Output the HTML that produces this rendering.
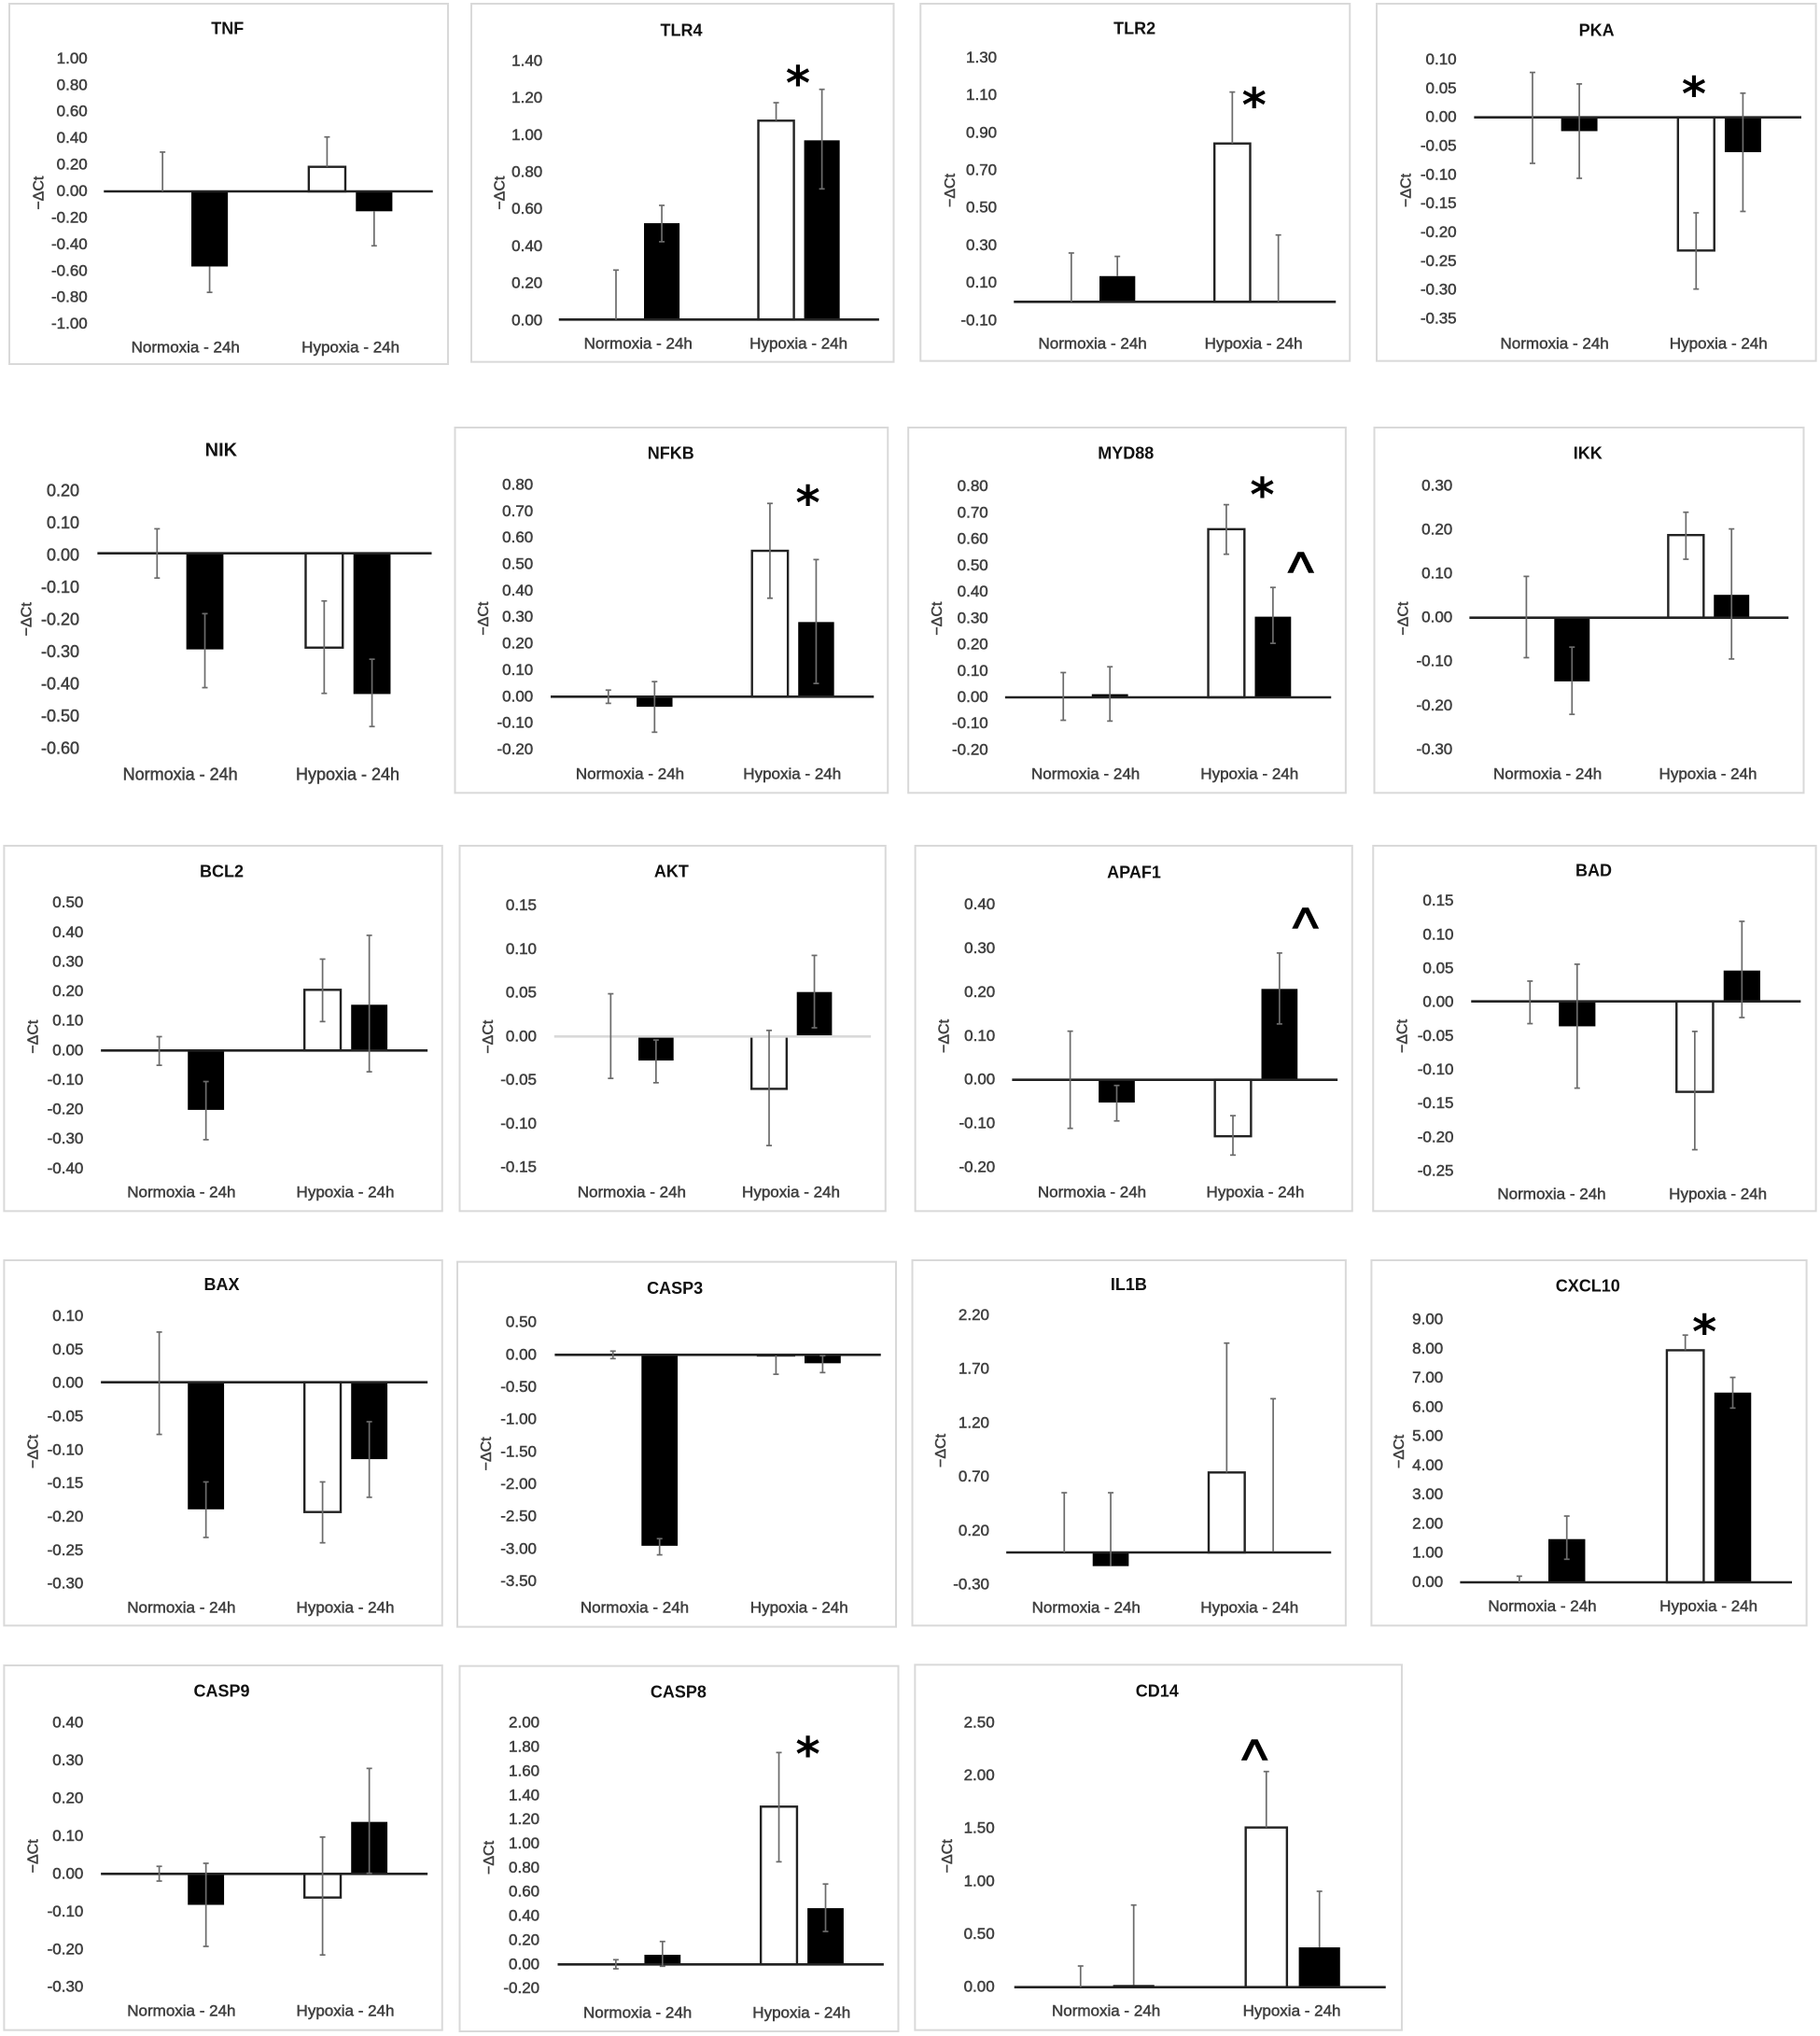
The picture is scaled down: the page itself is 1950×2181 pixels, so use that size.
<!DOCTYPE html>
<html lang="en">
<head>
<meta charset="utf-8">
<title>Gene expression panels: -ΔCt under normoxia and hypoxia</title>
<style>
  html, body { margin: 0; padding: 0; background: #fff; }
  #figure { display: block; font-family: "Liberation Sans", "DejaVu Sans", sans-serif; filter: blur(0.35px); }
</style>
</head>
<body>
<svg id="figure" xmlns="http://www.w3.org/2000/svg" width="1950" height="2181" viewBox="0 0 1950 2181"></svg>
<script>
/* ---------- chart data ---------- */
const genes = ['TNF','TLR4','TLR2','PKA','NIK','NFKB','MYD88','IKK','BCL2','AKT','APAF1','BAD','BAX','CASP3','IL1B','CXCL10','CASP9','CASP8','CD14'];
const categories = ['Normoxia - 24h','Hypoxia - 24h'];
const yAxisTitle = '\u2212\u0394Ct';

const tickLabels = [
  ['1.00','0.80','0.60','0.40','0.20','0.00','-0.20','-0.40','-0.60','-0.80','-1.00'],
  ['1.40','1.20','1.00','0.80','0.60','0.40','0.20','0.00'],
  ['1.30','1.10','0.90','0.70','0.50','0.30','0.10','-0.10'],
  ['0.10','0.05','0.00','-0.05','-0.10','-0.15','-0.20','-0.25','-0.30','-0.35'],
  ['0.20','0.10','0.00','-0.10','-0.20','-0.30','-0.40','-0.50','-0.60'],
  ['0.80','0.70','0.60','0.50','0.40','0.30','0.20','0.10','0.00','-0.10','-0.20'],
  ['0.80','0.70','0.60','0.50','0.40','0.30','0.20','0.10','0.00','-0.10','-0.20'],
  ['0.30','0.20','0.10','0.00','-0.10','-0.20','-0.30'],
  ['0.50','0.40','0.30','0.20','0.10','0.00','-0.10','-0.20','-0.30','-0.40'],
  ['0.15','0.10','0.05','0.00','-0.05','-0.10','-0.15'],
  ['0.40','0.30','0.20','0.10','0.00','-0.10','-0.20'],
  ['0.15','0.10','0.05','0.00','-0.05','-0.10','-0.15','-0.20','-0.25'],
  ['0.10','0.05','0.00','-0.05','-0.10','-0.15','-0.20','-0.25','-0.30'],
  ['0.50','0.00','-0.50','-1.00','-1.50','-2.00','-2.50','-3.00','-3.50'],
  ['2.20','1.70','1.20','0.70','0.20','-0.30'],
  ['9.00','8.00','7.00','6.00','5.00','4.00','3.00','2.00','1.00','0.00'],
  ['0.40','0.30','0.20','0.10','0.00','-0.10','-0.20','-0.30'],
  ['2.00','1.80','1.60','1.40','1.20','1.00','0.80','0.60','0.40','0.20','0.00','-0.20'],
  ['2.50','2.00','1.50','1.00','0.50','0.00']
];

/* bar order: normoxia control, normoxia treated, hypoxia control, hypoxia treated */
const meanValues = [
  [0, -0.566, 0.185, -0.15],
  [0, 0.52, 1.073, 0.967],
  [0, 0.137, 0.843, 0],
  [0, -0.024, -0.2315, -0.0606],
  [0, -0.2985, -0.293, -0.437],
  [0, -0.038, 0.551, 0.282],
  [0, 0.012, 0.638, 0.306],
  [0, -0.145, 0.188, 0.052],
  [0, -0.201, 0.2055, 0.155],
  [0, -0.0275, -0.06, 0.051],
  [0, -0.052, -0.129, 0.2075],
  [0, -0.037, -0.134, 0.0456],
  [0, -0.19, -0.194, -0.115],
  [0, -2.95, -0.01, -0.13],
  [0, -0.127, 0.742, 0.006],
  [0, 1.48, 7.95, 6.5],
  [0, -0.082, -0.0626, 0.1376],
  [0, 0.08, 1.307, 0.466],
  [0, 0.02, 1.509, 0.376]
];
const errorUp = [
  [0.296, 0, 0.225, 0],
  [0.267, 0.096, 0.097, 0.275],
  [0.26, 0.105, 0.274, 0.356],
  [0.078, 0.082, 0.0655, 0.1026],
  [0.076, 0.111, 0.145, 0.108],
  [0.025, 0.095, 0.179, 0.236],
  [0.094, 0.104, 0.093, 0.111],
  [0.094, 0.078, 0.052, 0.15],
  [0.047, 0.096, 0.104, 0.235],
  [0.049, 0.0235, 0.067, 0.042],
  [0.111, 0.039, 0.047, 0.082],
  [0.03, 0.092, 0.0895, 0.0729],
  [0.075, 0.041, 0.045, 0.056],
  [0.058, 0.11, 0, 0.116],
  [0.554, 0.681, 1.2, 1.42],
  [0.21, 0.79, 0.52, 0.52],
  [0.02, 0.11, 0.16, 0.1416],
  [0.039, 0.11, 0.448, 0.2],
  [0.2, 0.756, 0.529, 0.53]
];
const errorDown = [
  [0, 0.195, 0, 0.26],
  [0, 0.1, 0, 0.262],
  [0, 0, 0, 0],
  [0.08, 0.082, 0.067, 0.103],
  [0.077, 0.1187, 0.142, 0.101],
  [0.025, 0.096, 0.179, 0.232],
  [0.087, 0.102, 0.095, 0.101],
  [0.091, 0.075, 0.055, 0.146],
  [0.05, 0.101, 0.1075, 0.227],
  [0.048, 0.0255, 0.065, 0.041],
  [0.111, 0.042, 0.043, 0.08],
  [0.033, 0.0915, 0.0857, 0.0696],
  [0.078, 0.042, 0.046, 0.057],
  [0.058, 0.14, 0.29, 0.144],
  [0, 0, 0, 0],
  [0, 0.69, 0, 0.53],
  [0.019, 0.11, 0.152, 0.136],
  [0.036, 0.095, 0.457, 0.193],
  [0, 0, 0, 0]
];

/* ---------- panel layout, separate from the data ---------- */
/* o: crop origin px; k: horizontal divisor; other numbers are measured crop units */
const panelLayout = [
  {o:[0,0],k:1.6,box:[16,12,768,1170],axis:[178,742],zero:615,unit:426.5,tickX:150,title:[390,92],catY:1115,catX:[318,601],yTitle:[68,620]},
  {o:[0,0],k:1.6,box:[808,12,1532,1163],axis:[958,1507],zero:1027,unit:595.7,tickX:930,title:[1168,97],catY:1102,catX:[1094,1369],yTitle:[858,620],marks:[['*',1368,240]],tickShift:1},
  {o:[970,0],k:1.6,box:[26,12,762,1160],axis:[186,738],zero:970,unit:603.6,tickX:157,title:[393,92],catY:1102,catX:[321,597],yTitle:[78,612],marks:[['*',598,310]]},
  {o:[970,0],k:1.6,box:[808,12,1561,1160],axis:[975,1536],zero:377,unit:1849,tickX:945,title:[1185,97],catY:1102,catX:[1113,1394],yTitle:[860,612],marks:[['*',1352,275]]},
  {o:[0,440],k:1.6,axis:[167,740],zero:458,unit:1035,tickX:136,title:[379,127],catY:1168,catX:[309,596],yTitle:[47,670],big:true,tickShift:3},
  {o:[0,440],k:1.6,box:[780,54,1522,1228],axis:[944,1498],zero:919,unit:851,tickX:914,title:[1150,136],catY:1165,catX:[1080,1358],yTitle:[830,668],marks:[['*',1385,268]]},
  {o:[970,440],k:1.6,box:[5,54,755,1228],axis:[171,730],zero:921,unit:847,tickX:142,title:[378,136],catY:1165,catX:[309,590],yTitle:[56,668],marks:[['*',612,243],['^',678,478]]},
  {o:[970,440],k:1.6,box:[804,54,1540,1228],axis:[967,1514],zero:665,unit:1412,tickX:938,title:[1170,136],catY:1165,catX:[1101,1376],yTitle:[855,668]},
  {o:[0,890],k:1.6,box:[7,48,758,1222],axis:[173,733],zero:706,unit:949,tickX:143,title:[380,130],catY:1160,catX:[311,592],yTitle:[58,662]},
  {o:[0,890],k:1.6,box:[788,48,1518,1222],axis:[950,1493],zero:661,unit:2803,tickX:920,title:[1151,130],catY:1160,catX:[1083,1356],yTitle:[838,662],lightAxis:true},
  {o:[970,890],k:1.6,box:[17,48,766,1222],axis:[183,741],zero:800,unit:1407,tickX:154,title:[392,134],catY:1160,catX:[320,600],yTitle:[68,660],marks:[['^',686,272]]},
  {o:[970,890],k:1.6,box:[802,48,1561,1222],axis:[970,1535],zero:548,unit:2170,tickX:940,title:[1180,127],catY:1165,catX:[1108,1393],yTitle:[853,660],tickShift:1},
  {o:[0,1330],k:1.6,box:[7,60,758,1234],axis:[173,733],zero:452,unit:2150,tickX:143,title:[380,138],catY:1175,catX:[311,592],yTitle:[58,675],tickShift:1},
  {o:[0,1330],k:1.6,box:[784,65,1536,1238],axis:[951,1510],zero:364,unit:208,tickX:920,title:[1157,150],catY:1175,catX:[1088,1370],yTitle:[835,682]},
  {o:[970,1330],k:1.6,box:[12,60,755,1234],axis:[173,730],zero:999,unit:346.4,tickX:144,title:[383,138],catY:1175,catX:[310,590],yTitle:[62,672]},
  {o:[970,1330],k:1.6,box:[799,60,1545,1234],axis:[951,1520],zero:1095,unit:93.8,tickX:922,title:[1170,142],catY:1170,catX:[1092,1377],yTitle:[848,675],marks:[['*',1370,262]]},
  {o:[0,1770],k:1.6,box:[7,42,758,1214],axis:[173,733],zero:712,unit:1214,tickX:143,title:[380,124],catY:1150,catX:[311,592],yTitle:[58,655]},
  {o:[0,1770],k:1.6,box:[788,44,1540,1218],axis:[956,1515],zero:1003,unit:388,tickX:925,title:[1163,128],catY:1156,catX:[1093,1374],yTitle:[840,660],marks:[['*',1385,300]]},
  {o:[970,1770],k:2.613,box:[27,40,1390,1214],axis:[305,1345],zero:1076,unit:340,tickX:250,title:[705,124],catY:1150,catX:[562,1082],yTitle:[120,655],marks:[['^',978,305]]}
];

const SVG_NS = 'http://www.w3.org/2000/svg';
const figure = document.getElementById('figure');
const VERTICAL_DIVISOR = 3;
const BAR_OFFSET = 0.143;
const BAR_WIDTH = 0.222;
const TEXT_COLOR = '#404040';
const TEXT_STROKE = 0.5;

function make(parent, tag, attrs, text) {
  const el = document.createElementNS(SVG_NS, tag);
  for (const key in attrs) el.setAttribute(key, attrs[key]);
  if (text !== undefined) el.textContent = text;
  parent.appendChild(el);
  return el;
}

function slug(s) { return s.toLowerCase().replace(/[^a-z0-9]+/g, '-'); }

genes.forEach(function (gene, p) {
  const L = panelLayout[p];
  const name = slug(gene);
  /* axis functions */
  const px = function (z) { return L.o[0] + z / L.k; };
  const py = function (z) { return L.o[1] + z / VERTICAL_DIVISOR; };
  const yScale = function (v) { return py(L.zero - v * L.unit); };
  const xa = px(L.axis[0]);
  const xb = px(L.axis[1]);
  const catW = (xb - xa) / 2;
  const barCenter = function (i) {
    const cat = Math.floor(i / 2);
    const side = i % 2 === 0 ? -1 : 1;
    return xa + catW * (cat + 0.5) + side * BAR_OFFSET * catW;
  };
  const fontSize = L.big ? 18 : 17;

  const panel = make(figure, 'g', {});
  
  

  if (L.box) {
    const frame = make(panel, 'rect', {
      x: px(L.box[0]), y: py(L.box[1]),
      width: px(L.box[2]) - px(L.box[0]), height: py(L.box[3]) - py(L.box[1]),
      fill: '#fff', stroke: '#d9d9d9', 'stroke-width': 2
    });
    
    
  }

  const title = make(panel, 'text', {
    x: px(L.title[0]), y: py(L.title[1]) + 6, 'text-anchor': 'middle',
    'font-size': L.big ? 20 : 18, 'font-weight': 'bold', fill: '#111'
  }, gene);
  
  

  tickLabels[p].forEach(function (label) {
    const tick = make(panel, 'text', {
      x: px(L.tickX), y: yScale(parseFloat(label)) - 1 + 6 + (L.tickShift || 0), 'text-anchor': 'end',
      'font-size': fontSize, 'font-weight': 'normal', fill: TEXT_COLOR,
      stroke: TEXT_COLOR, 'stroke-width': TEXT_STROKE
    }, label);
    
    
  });

  const yTitleX = px(L.yTitle[0]);
  const yTitleY = py(L.yTitle[1]);
  const yTitle = make(panel, 'text', {
    x: yTitleX, y: yTitleY, 'text-anchor': 'middle', 'font-size': 16, fill: TEXT_COLOR,
    stroke: TEXT_COLOR, 'stroke-width': TEXT_STROKE, 'dominant-baseline': 'middle',
    transform: 'rotate(-90 ' + yTitleX + ' ' + yTitleY + ')'
  }, yAxisTitle);
  
  

  categories.forEach(function (cat, c) {
    const catLabel = make(panel, 'text', {
      x: px(L.catX[c]), y: py(L.catY) + 6, 'text-anchor': 'middle',
      'font-size': fontSize, fill: TEXT_COLOR, stroke: TEXT_COLOR, 'stroke-width': TEXT_STROKE
    }, cat);
    
    
  });

  /* bars */
  const barW = BAR_WIDTH * catW;
  meanValues[p].forEach(function (v, i) {
    if (v === 0) return;
    const y0 = yScale(0);
    const y1 = yScale(v);
    const top = Math.min(y0, y1);
    const h = Math.abs(y1 - y0);
    const isWhite = i === 2;
    const bar = make(panel, 'rect', {
      x: barCenter(i) - barW / 2, y: top, width: barW, height: h,
      fill: isWhite ? '#fff' : '#000',
      stroke: isWhite ? '#222' : 'none', 'stroke-width': isWhite ? 2.4 : 0
    });
    
    
  });

  /* zero axis */
  const axisLine = make(panel, 'line', {
    x1: xa, x2: xb, y1: yScale(0), y2: yScale(0),
    stroke: L.lightAxis ? '#d9d9d9' : '#222', 'stroke-width': 2.6
  });
  
  

  /* error bars */
  meanValues[p].forEach(function (v, i) {
    const up = errorUp[p][i];
    const down = errorDown[p][i];
    if (!up && !down) return;
    const cx = barCenter(i);
    const yHi = yScale(v + up);
    const yLo = yScale(v - down);
    const err = make(panel, 'g', { stroke: '#6b6b6b', 'stroke-width': 1.7, fill: 'none' });
    
    
    make(err, 'line', { x1: cx, x2: cx, y1: yHi, y2: yLo });
    if (up) make(err, 'line', { x1: cx - 3, x2: cx + 3, y1: yHi, y2: yHi });
    if (down) make(err, 'line', { x1: cx - 3, x2: cx + 3, y1: yLo, y2: yLo });
  });

  /* significance marks */
  (L.marks || []).forEach(function (m) {
    const isStar = m[0] === '*';
    const cx = px(m[1]);
    const cy = py(m[2]);
    const size = isStar ? 50 : 58;
    const mark = make(panel, 'text', {
      x: cx, y: cy + (isStar ? 0.53 : 0.56) * size, 'text-anchor': 'middle',
      'font-size': size, 'font-weight': isStar ? 'bold' : 'normal', fill: '#000',
      stroke: isStar ? 'none' : '#000', 'stroke-width': isStar ? 0 : 1.4,
      'font-family': isStar ? '"DejaVu Sans", sans-serif' : '"Liberation Sans", sans-serif'
    }, m[0]);
    
    
  });
});
</script>
</body>
</html>
